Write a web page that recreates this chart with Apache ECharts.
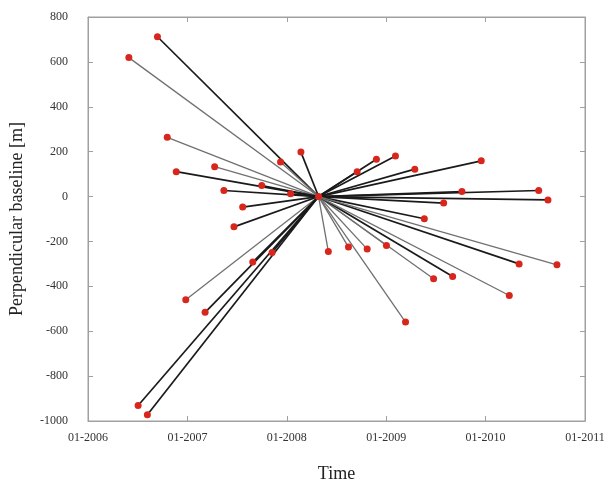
<!DOCTYPE html>
<html>
<head>
<meta charset="utf-8">
<script src="https://cdn.jsdelivr.net/npm/echarts@6/dist/echarts.min.js"></script>
<style>html,body{margin:0;padding:0;background:#fff;}#c{width:614px;height:488px;}</style>
</head>
<body>
<div id="c"></div>
<script>
const masterDate = '2008-04-27';
const masterBaseline = 0;
const slaveDates = [
  '2006-09-13','2006-05-31','2006-10-19','2006-11-21','2007-04-11','2007-05-15',
  '2007-07-23','2007-06-21','2007-12-09','2008-02-22','2007-10-01','2008-01-15',
  '2006-12-26','2007-03-07','2007-08-29','2007-11-08','2006-07-04','2006-08-07',
  '2008-09-16','2008-11-26','2009-02-04','2009-04-16','2009-07-31','2009-05-21',
  '2009-12-16','2009-10-06','2010-07-15','2010-08-18',
  '2008-06-02','2008-08-15','2008-10-23','2009-01-02','2009-06-24','2009-09-02',
  '2009-03-13','2010-05-04','2010-09-20','2010-03-29'
];
const slaveBaselines = [
  712, 619, 264, 111, 133, 27,
  -47, -135, 154, 198, 49, 12,
  -460, -516, -292, -249, -931, -972,
  111, 166, 181, 122, -29, -99,
  159, 22, 27, -15,
  -245, -225, -234, -218, -366, -356,
  -559, -300, -304, -441
];
const xTicks = [2006, 2007, 2008, 2009, 2010, 2011];
const yTicks = [800, 600, 400, 200, 0, -200, -400, -600, -800, -1000];

const greyLines = [1, 2, 4, 8, 12, 28, 29, 30, 31, 32, 34, 36, 37];

function decYear(s) {
  const d = new Date(s + 'T00:00:00Z');
  const y = d.getUTCFullYear();
  const a = Date.UTC(y, 0, 1), b = Date.UTC(y + 1, 0, 1);
  return y + (d.getTime() - a) / (b - a);
}

const mx = decYear(masterDate);
const series = [];
slaveDates.forEach((d, i) => {
  const grey = greyLines.indexOf(i) >= 0;
  series.push({
    type: 'line',
    data: [[mx, masterBaseline], [decYear(d), slaveBaselines[i]]],
    symbol: 'none',
    silent: true,
    z: 2,
    lineStyle: { color: grey ? '#707070' : '#1a1a1a', width: grey ? 1.3 : 1.7 }
  });
});
series.push({
  type: 'scatter',
  data: slaveDates.map((d, i) => [decYear(d), slaveBaselines[i]]).concat([[mx, masterBaseline]]),
  symbolSize: 7,
  itemStyle: { color: '#d8261c', opacity: 1 },
  z: 5
});

const font = 'Liberation Serif';
const axisCol = '#a0a0a0';
const chart = echarts.init(document.getElementById('c'), null, { renderer: 'canvas' });
chart.setOption({
  animation: false,
  backgroundColor: '#fff',
  grid: { left: 86, right: 29, top: 17, bottom: 67, show: true, borderColor: axisCol, borderWidth: 1 },
  xAxis: [{
    type: 'value', min: xTicks[0], max: xTicks[xTicks.length - 1], interval: 1,
    name: 'Time', nameLocation: 'middle', nameGap: 44,
    nameTextStyle: { fontFamily: font, fontSize: 18, color: '#222' },
    axisLine: { onZero: false, lineStyle: { color: axisCol } },
    axisTick: { inside: true, length: 5, lineStyle: { color: axisCol } },
    splitLine: { show: false },
    axisLabel: { fontFamily: font, fontSize: 12, color: '#333', margin: 11,
      formatter: v => '01-' + v }
  }, {
    type: 'value', position: 'top', min: xTicks[0], max: xTicks[xTicks.length - 1], interval: 1,
    axisLine: { onZero: false, lineStyle: { color: axisCol } },
    axisTick: { inside: true, length: 5, lineStyle: { color: axisCol } },
    axisLabel: { show: false }, splitLine: { show: false }
  }],
  yAxis: [{
    type: 'value', min: yTicks[yTicks.length - 1], max: yTicks[0], interval: 200,
    name: 'Perpendicular baseline [m]', nameLocation: 'middle', nameGap: 62,
    nameTextStyle: { fontFamily: font, fontSize: 18, color: '#222' },
    axisLine: { show: true, onZero: false, lineStyle: { color: axisCol } },
    axisTick: { show: true, inside: true, length: 5, lineStyle: { color: axisCol } },
    splitLine: { show: false },
    axisLabel: { fontFamily: font, fontSize: 12, color: '#333', margin: 20,
      formatter: v => String(v) }
  }, {
    type: 'value', position: 'right', min: yTicks[yTicks.length - 1], max: yTicks[0], interval: 200,
    axisLine: { show: true, onZero: false, lineStyle: { color: axisCol } },
    axisTick: { show: true, inside: true, length: 5, lineStyle: { color: axisCol } },
    axisLabel: { show: false }, splitLine: { show: false }
  }],
  series: series
});
</script>
</body>
</html>
